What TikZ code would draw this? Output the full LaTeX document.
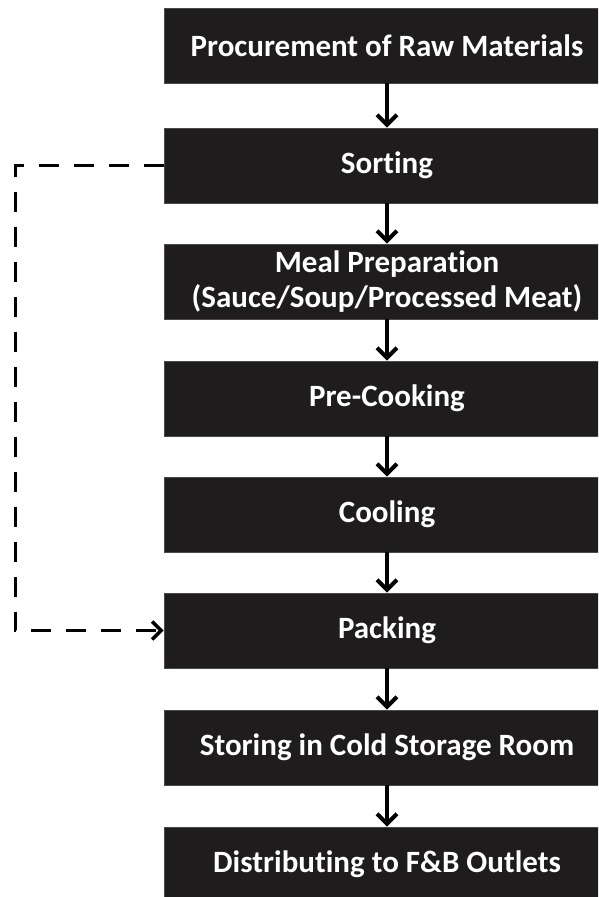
\documentclass[tikz,border=0pt]{standalone}
\usepackage{fontspec}
\setmainfont[Ligatures={NoCommon,NoRequired,NoContextual},Contextuals=NoAlternate]{Carlito}
\usetikzlibrary{arrows.meta}
\definecolor{boxfill}{HTML}{1E1C1D}
\begin{document}
\begin{tikzpicture}[x=1pt,y=-1pt,
  stepbox/.style={rectangle, fill=boxfill, draw=boxfill!80!white, line width=0.8pt,
    minimum width=446pt, minimum height=75pt, inner sep=0pt,
    text=white, align=center,
    font=\bfseries\fontsize{31}{35}\selectfont},
  flow/.style={line width=3.5pt, -{Straight Barb[length=10pt,width=20pt,line width=4pt]}},
  loop/.style={line width=3pt, dash pattern=on 20pt off 15pt,
    -{Straight Barb[length=9pt,width=18pt,line width=3.5pt]}}
]
\useasboundingbox (0,0) rectangle (598,897);
\begin{scope}
\clip (0,0) rectangle (598,897);
\node[stepbox] (n1) at (387,45.5) {Procurement of Raw Materials};
\node[stepbox] (n2) at (387,165.5) {Sorting};
\node[stepbox] (n3) at (387,281.5) {Meal Preparation\\(Sauce/Soup/Processed Meat)};
\node[stepbox] (n4) at (387,398.5) {Pre-Cooking};
\node[stepbox] (n5) at (387,514.5) {Cooling};
\node[stepbox] (n6) at (387,630.5) {Packing};
\node[stepbox] (n7) at (387,747.5) {Storing in Cold Storage Room};
\node[stepbox] (n8) at (387,864.5) {Distributing to F\&B Outlets};
\end{scope}
\foreach \a/\b in {n1/n2,n2/n3,n3/n4,n4/n5,n5/n6,n6/n7,n7/n8}
  \draw[flow] (\a.south -| 387,0) -- (\b.north -| 387,0);
\coordinate (c1) at (15,165.5);
\coordinate (c2) at (15,630.5);
\draw[loop] (n2.west) -- (c1) -- (c2) -- (n6.west);
\end{tikzpicture}
\end{document}
